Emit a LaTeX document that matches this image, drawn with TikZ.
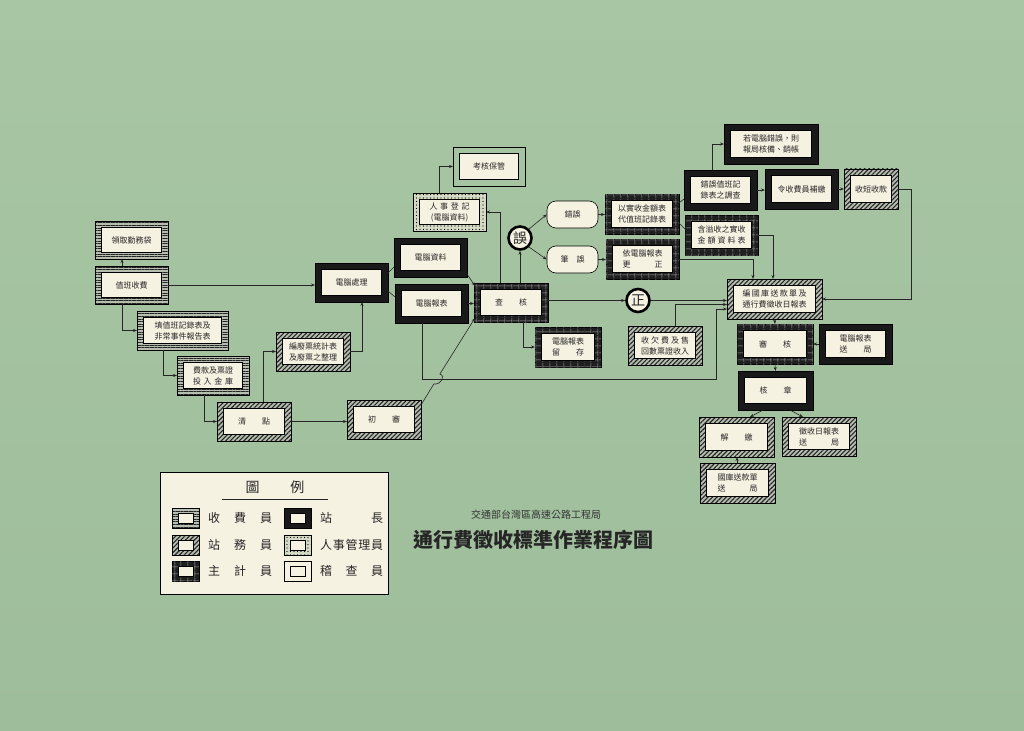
\documentclass[tikz,border=0pt]{standalone}
\usepackage{fontspec}
\setmainfont{Noto Sans CJK TC}
\usetikzlibrary{arrows.meta,patterns.meta,calc}
\definecolor{bgtop}{RGB}{168,198,164}
\definecolor{bgbot}{RGB}{158,189,155}
\definecolor{cream}{RGB}{246,242,226}
\definecolor{frm}{RGB}{182,190,176}
\definecolor{dotbg}{RGB}{212,218,196}
\newcommand\bx[7]{%
  \node[#1, minimum width=#5pt, minimum height=#6pt] (#2) at (#3,#4) {};
  \node[inbox, minimum width=#5pt-13pt, minimum height=#6pt-13pt] (#2i) at (#2.center) {#7};}
\newcommand\sym[4]{%
  \node[#1, minimum width=27pt, minimum height=20pt] (#2) at (#3,#4) {};
  \node[inbox, minimum width=15pt, minimum height=10pt] (#2i) at (#2.center) {};}
\newcommand\spr[2]{\makebox[#1][s]{#2}}
\tikzset{
  bxframe/.style={inner sep=0pt, outer sep=0pt, draw=black, line width=0.6pt},
  shou/.style={bxframe, preaction={fill=frm}, pattern={Lines[angle=0,distance=2.6pt,line width=1pt]}, pattern color=black!85},
  wuy/.style={bxframe, preaction={fill=frm}, pattern={Lines[angle=45,distance=3.2pt,line width=1.1pt]}, pattern color=black!85},
  zhu/.style={bxframe, fill=black!88,
    postaction={pattern={Lines[angle=0,distance=6.5pt,line width=0.5pt]}, pattern color=gray!70},
    postaction={pattern={Lines[angle=90,distance=6.5pt,line width=0.5pt]}, pattern color=gray!70}},
  zhang/.style={bxframe, fill=black!90},
  ren/.style={bxframe, preaction={fill=dotbg}, pattern={Dots[radius=0.6pt,distance=3.5pt]}, pattern color=black},
  ji/.style={bxframe, line width=0.7pt},
  inbox/.style={draw=black, line width=0.5pt, fill=cream, inner sep=0pt, outer sep=0pt,
    font=\fontsize{8}{11}\selectfont, text=black!85, align=center},
  circ/.style={circle, draw=black, line width=2.6pt, fill=cream, minimum size=23pt, inner sep=0pt,
    font=\fontsize{14}{14}\selectfont, text=black!85},
  pill/.style={draw=black, line width=0.6pt, fill=cream, rounded corners=9pt, minimum width=51pt,
    minimum height=27pt, inner sep=0pt, font=\fontsize{8}{11}\selectfont, text=black!85},
  arr/.style={draw=black!85, line width=0.6pt, -{Stealth[length=4pt,width=3pt]}},
  ln/.style={draw=black!85, line width=0.6pt},
  lgtext/.style={inner sep=0pt, anchor=west, font=\fontsize{12}{12}\selectfont, text=black!85},
}
\begin{document}
\begin{tikzpicture}[x=1pt,y=-1pt]
\useasboundingbox (0,0) rectangle (1024,730);
\shade[top color=bgtop, bottom color=bgbot] (0,0) rectangle (1024,730);

% left column
\bx{shou}{lq}{131.5}{240}{73}{38}{領取勤務袋}
\bx{shou}{zb}{131.5}{285}{73}{38}{值班收費}
\bx{shou}{tx}{182.5}{330.5}{91}{39}{填值班記錄表及\\非常事件報告表}
\bx{shou}{fk}{213}{375.5}{72}{39}{費款及票證\\\spr{5em}{投\hfill 入\hfill 金\hfill 庫}}
\bx{wuy}{qd}{254}{421.5}{74}{39}{清\hspace{2em}點}
\bx{wuy}{bf}{313}{351.5}{74}{39}{編廢票統計表\\及廢票之整理}
\bx{wuy}{cs}{384}{419.5}{74}{39}{初\hspace{2em}審}
\bx{zhang}{dc}{351.5}{282.5}{73}{39}{電腦處理}
\bx{zhang}{dz}{430.5}{257.5}{73}{39}{電腦資料}
\bx{zhang}{db}{431.5}{303.5}{73}{39}{電腦報表}
\bx{ren}{rs}{449.5}{212}{73}{38}{\spr{5em}{人\hfill 事\hfill 登\hfill 記}\\(電腦資料)}
\bx{ji}{kh}{489}{166.5}{72}{39}{考核保管}
\bx{zhu}{ck}{511}{302.5}{74}{39}{查\hspace{2em}核}

\node[circ] (wu) at (520,238) {誤};
\node[circ] (zh) at (638,300.5) {正};
\node[pill] (cw) at (572.5,214.5) {錯誤};
\node[pill] (bw) at (572.5,259.5) {筆\hspace{1em}誤};

\bx{zhu}{ys}{642}{214}{74}{40}{以實收金額表\\代值班記錄表}
\bx{zhu}{yd}{642.5}{259}{73}{40}{依電腦報表\\\spr{5em}{更\hfill 正}}
\bx{zhu}{lc}{568}{347}{66}{40}{電腦報表\\\spr{4em}{留\hfill 存}}
\bx{wuy}{sq}{665}{345.5}{74}{39}{\spr{6em}{收\hfill 欠\hfill 費\hfill 及\hfill 售}\\回數票證收入}

\bx{zhang}{rd}{771}{144}{94}{40}{若電腦錯誤，則\\報局核備、銷帳}
\bx{zhang}{cz}{720.5}{190}{73}{40}{錯誤值班記\\錄表之調查}
\bx{zhang}{lb}{801.5}{189}{73}{40}{令收費員補繳}
\bx{wuy}{sd}{871}{189}{54}{40}{收短收款}
\bx{zhu}{hy}{721.5}{235}{73}{40}{含溢收之實收\\\spr{6em}{金\hfill 額\hfill 資\hfill 料\hfill 表}}

\bx{wuy}{bg}{774.5}{299}{95}{40}{\spr{8em}{編\hfill 國\hfill 庫\hfill 送\hfill 款\hfill 單\hfill 及}\\通行費徵收日報表}
\bx{zhu}{sh}{775}{344}{76}{40}{審\hspace{2em}核}
\bx{zhang}{ds}{855.5}{344}{73}{40}{電腦報表\\\spr{4em}{送\hfill 局}}
\bx{zhang}{hz}{775.5}{390.5}{75}{39}{核\hspace{2em}章}
\bx{wuy}{jj}{736.5}{437}{75}{40}{解\hspace{2em}繳}
\bx{wuy}{zs}{819}{436.5}{74}{39}{徵收日報表\\\spr{5em}{送\hfill 局}}
\bx{wuy}{gk}{737.5}{483}{75}{40}{國庫送款單\\\spr{5em}{送\hfill 局}}

% connectors
\draw[arr] (zb.north -| 122,0) -- (lq.south -| 122,0);
\draw[arr] (zb.east) -- (zb.east -| dc.west);
\draw[arr] (zb.south -| 122,0) |- (tx.west);
\draw[arr] (tx.south -| 163,0) |- (fk.west);
\draw[arr] (fk.south -| 204,0) |- (qd.west);
\draw[arr] (qd.north -| 263,0) |- (bf.west);
\draw[arr] (qd.east) -- (qd.east -| cs.west);
\draw[arr] (bf.east) -| (dc.south -| 362,0);
\draw[ln] (dc.east |- 0,273) -- (dz.west |- 0,267);
\draw[ln] (dc.east |- 0,291) -- (db.west |- 0,297);
\draw[arr] ($(dz.south east)+(0,-3)$) -- ($(ck.north west)+(1,3)$);
\draw[arr] (db.east) -- (db.east -| ck.west);
\draw[arr] ($(cs.north east)+(0,5)$) -- (433.8,384)
   .. controls (441,385) and (446,376) .. (439.9,374) -- ($(ck.south west)+(1,-4)$);
\coordinate (lp) at (716,379);
\draw[arr] (db.south -| 422,0) |- (lp) |- (bg.west |- 0,309);
\draw[arr] (ck.north -| 500,0) |- (rs.east);
\draw[arr] (rs.north -| 439,0) |- (kh.west);
\draw[arr] (ck.north -| wu) -- (wu.south);
\draw[arr] (wu.north east) -- (cw.west);
\draw[arr] (wu.south east) -- (bw.west);
\draw[arr] (cw.east) -- (cw.east -| ys.west);
\draw[arr] (bw.east) -- (bw.east -| yd.west);
\draw[ln] (ys.east |- 0,203) -- (cz.west |- 0,199);
\draw[ln] (ys.east |- 0,223) -- (hy.west |- 0,229);
\draw[arr] (cz.north -| 712,0) |- (rd.west);
\draw[arr] (cz.east) -- (cz.east -| lb.west);
\draw[arr] (lb.east) -- (lb.east -| sd.west);
\draw[arr] (sd.east) -| ($(bg.east)+(89,0)$) -- (bg.east);
\draw[arr] (hy.east) -| (bg.north -| 773,0);
\draw[arr] (yd.east) -| (bg.north -| 753,0);
\draw[arr] (ck.east |- zh) -- (zh.west);
\draw[arr] (zh.east) -- (zh.east -| bg.west);
\draw[arr] (sq.north -| 675,0) |- (bg.west |- 0,304.5);
\draw[arr] (ck.south -| 523,0) |- (lc.west);
\draw[arr] (bg.south) -- (sh.north);
\draw[arr] (ds.west) -- (sh.east);
\draw[arr] (sh.south) -- (hz.north);
\draw[arr] (hz.south -| 763,0) -- (jj.north -| 750,0);
\draw[arr] (hz.south -| 790,0) -- (zs.north -| 803,0);
\draw[arr] (gk.north -| 737,0) -- (jj.south -| 737,0);

% legend
\node[draw=black, line width=0.8pt, fill=cream, minimum width=228pt, minimum height=122pt, inner sep=0pt] (lg) at (274,533) {};
\node[font=\fontsize{14}{14}\selectfont, text=black!85] (lgt) at (275,487) {圖\hspace{2.2em}例};
\draw[line width=0.9pt, black!85] (222,499) -- (328,499);
\sym{shou}{l1}{185.5}{518}
\sym{wuy}{l2}{185.5}{545}
\sym{zhu}{l3}{185.5}{571}
\sym{zhang}{r1}{298}{518}
\sym{ren}{r2}{298}{545}
\sym{ji}{r3}{298}{571}
\node[lgtext] (t1) at (208,518) {\spr{64pt}{收\hfill 費\hfill 員}};
\node[lgtext] (t2) at (208,545) {\spr{64pt}{站\hfill 務\hfill 員}};
\node[lgtext] (t3) at (208,571) {\spr{64pt}{主\hfill 計\hfill 員}};
\node[lgtext] (t4) at (320,518) {\spr{63pt}{站\hfill 長}};
\node[lgtext] (t5) at (320,545) {\spr{63pt}{人\hfill 事\hfill 管\hfill 理\hfill 員}};
\node[lgtext] (t6) at (320,571) {\spr{63pt}{稽\hfill 查\hfill 員}};

% titles
\node[font=\fontsize{10}{10}\selectfont, text=black!80] (st) at (536,515) {交通部台灣區高速公路工程局};
\node[font=\fontsize{20}{20}\selectfont\bfseries, text=black!85] (mt) at (533,540) {通行費徵收標準作業程序圖};
\end{tikzpicture}
\end{document}
